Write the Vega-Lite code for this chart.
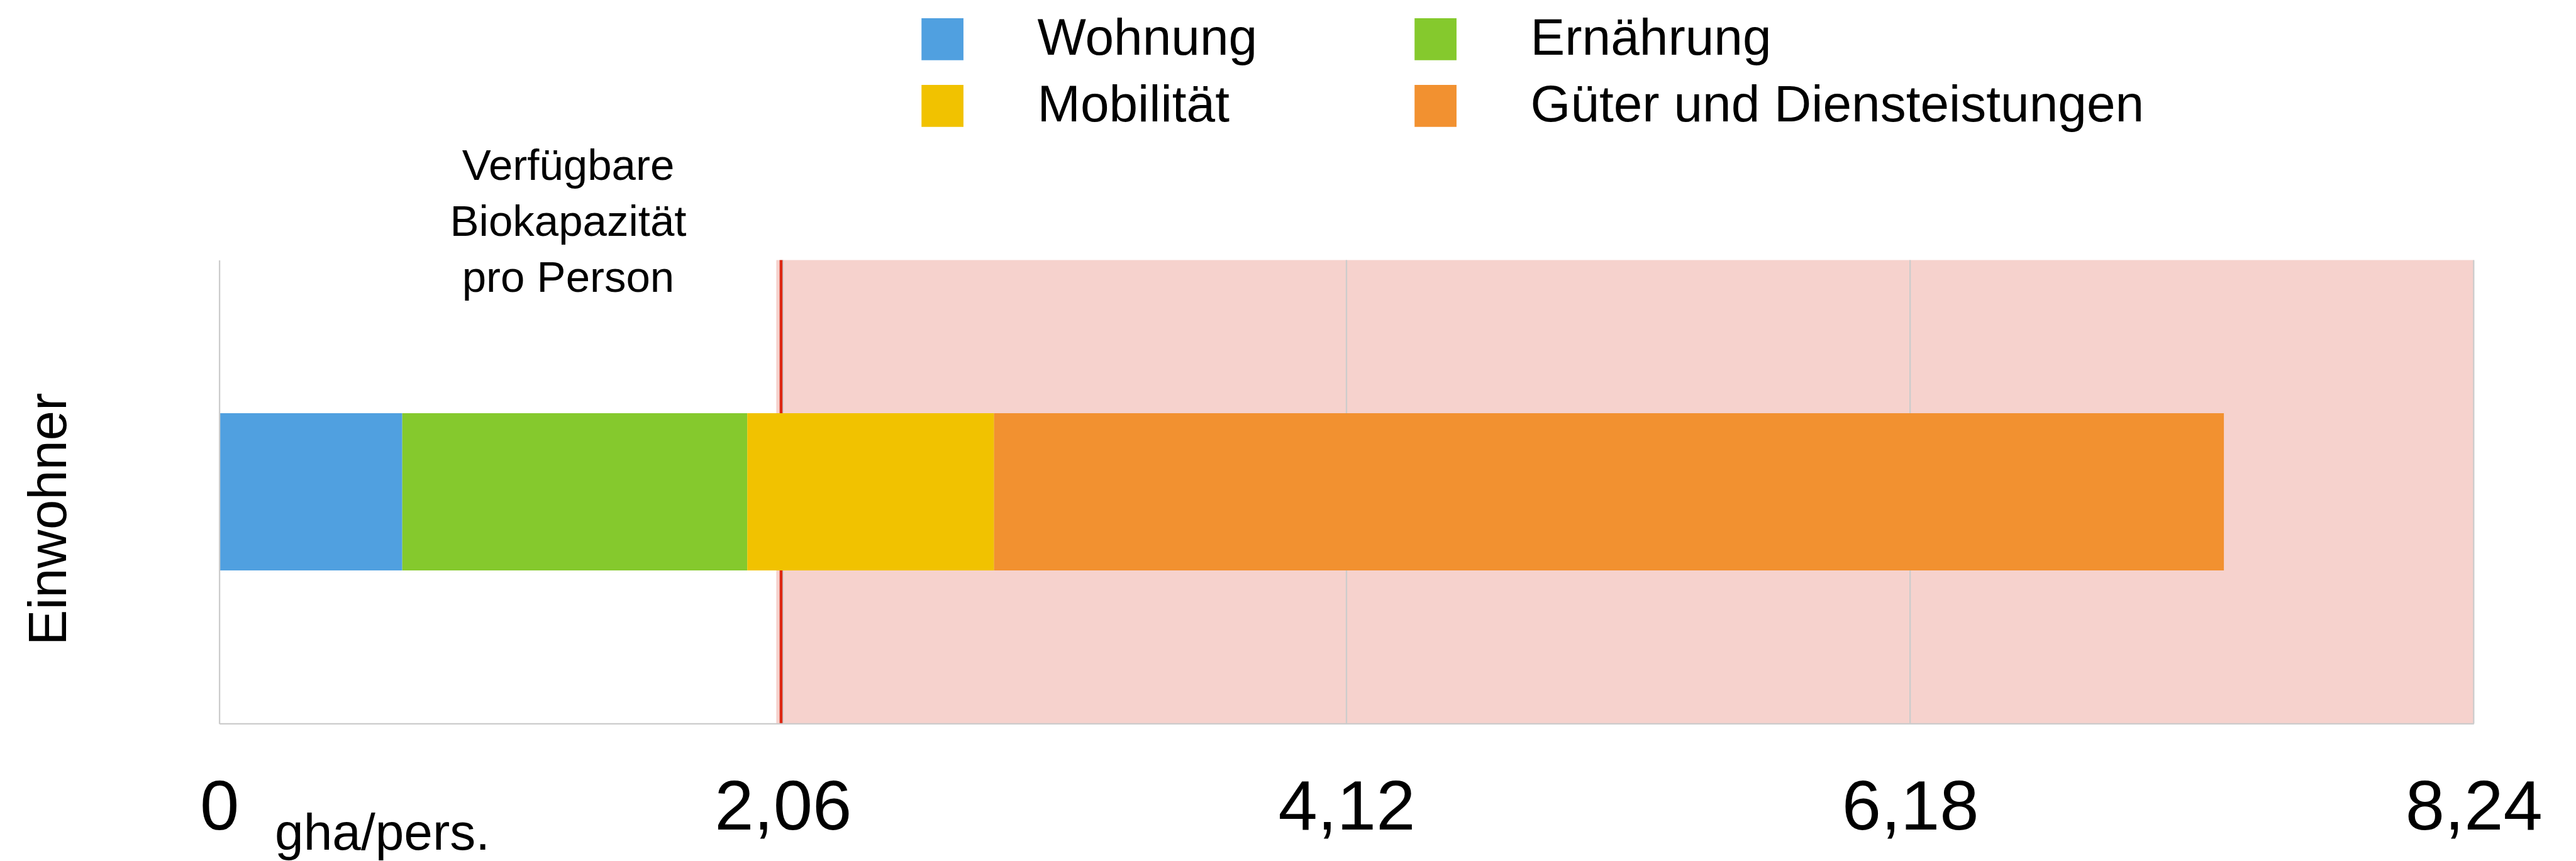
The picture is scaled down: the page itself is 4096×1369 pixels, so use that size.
{
  "$schema": "https://vega.github.io/schema/vega-lite/v6.json",
  "autosize": {"type": "none"},
  "padding": {"left": 348.6, "top": 413.4, "right": 162.7, "bottom": 218.6},
  "width": 3584.7,
  "height": 737,
  "config": {
    "view": {"stroke": null},
    "font": "Liberation Sans",
    "text": {"font": "Liberation Sans"}
  },
  "datasets": {
    "fussabdruck": [
      {"Gruppe": "Einwohner", "Kategorie": "Wohnung", "Rang": 1, "Wert": 0.669},
      {"Gruppe": "Einwohner", "Kategorie": "Ernährung", "Rang": 2, "Wert": 1.261},
      {"Gruppe": "Einwohner", "Kategorie": "Mobilität", "Rang": 3, "Wert": 0.902},
      {"Gruppe": "Einwohner", "Kategorie": "Güter und Diensteistungen", "Rang": 4, "Wert": 4.495}
    ],
    "zone": [{"von": 2.036, "bis": 8.24}],
    "gitter": [{"g": 2.06}, {"g": 4.12}, {"g": 6.18}, {"g": 8.24}],
    "kapazitaet": [{"b": 2.0535, "Gruppe": "Einwohner", "label": "Verfügbare|Biokapazität|pro Person", "lx": 1.2755}]
  },
  "layer": [
    {
      "data": {"name": "zone"},
      "mark": {"type": "rect", "color": "#F6D2CD"},
      "encoding": {
        "x": {
          "field": "von",
          "type": "quantitative",
          "scale": {"domain": [0, 8.24], "nice": false, "zero": true},
          "title": "gha/pers.",
          "axis": {
            "values": [0, 2.06, 4.12, 6.18, 8.24],
            "labelExpr": "datum.value == 0 ? '0' : replace(format(datum.value, '.2f'), '.', ',')",
            "ticks": false,
            "tickSize": 0,
            "grid": false,
            "domainColor": "#CCCCCC",
            "domainWidth": 2.3,
            "labelFontSize": 112,
            "labelPadding": 168,
            "labelBaseline": "alphabetic",
            "labelFlush": false,
            "labelOverlap": false,
            "labelLimit": 1000,
            "labelColor": "#000000",
            "titleX": 88,
            "titleY": 200,
            "titleAlign": "left",
            "titleAnchor": "start",
            "titleBaseline": "alphabetic",
            "titleFontSize": 82,
            "titleFontWeight": "normal",
            "titleColor": "#000000",
            "titleLimit": 2000,
            "zindex": 1
          }
        },
        "x2": {"field": "bis"}
      }
    },
    {
      "data": {"name": "gitter"},
      "mark": {"type": "rule", "color": "#CCCCCC", "strokeWidth": 2.3},
      "encoding": {
        "x": {"field": "g", "type": "quantitative", "title": "gha/pers."}
      }
    },
    {
      "data": {"name": "kapazitaet"},
      "mark": {"type": "rule", "color": "#DD2611", "strokeWidth": 4.6},
      "encoding": {
        "x": {"field": "b", "type": "quantitative", "title": "gha/pers."}
      }
    },
    {
      "data": {"name": "fussabdruck"},
      "mark": {"type": "bar"},
      "encoding": {
        "x": {
          "field": "Wert",
          "type": "quantitative",
          "stack": "zero",
          "title": "gha/pers."
        },
        "order": {"field": "Rang", "type": "quantitative", "sort": "ascending"},
        "y": {
          "field": "Gruppe",
          "type": "nominal",
          "scale": {"paddingInner": 0, "paddingOuter": 0.974},
          "title": "Einwohner",
          "axis": {
            "labels": false,
            "ticks": false,
            "tickSize": 0,
            "grid": false,
            "domainColor": "#CCCCCC",
            "domainWidth": 2.3,
            "titleX": -243.8,
            "titleY": 411.6,
            "titleAngle": 270,
            "titleAlign": "center",
            "titleBaseline": "alphabetic",
            "titleFontSize": 85,
            "titleFontWeight": "normal",
            "titleColor": "#000000",
            "titleLimit": 2000,
            "zindex": 1
          }
        },
        "color": {
          "field": "Kategorie",
          "type": "nominal",
          "sort": ["Wohnung", "Ernährung", "Mobilität", "Güter und Diensteistungen"],
          "scale": {
            "domain": ["Wohnung", "Ernährung", "Mobilität", "Güter und Diensteistungen"],
            "range": ["#50A0E0", "#85C92D", "#F1C200", "#F29130"]
          },
          "legend": {
            "title": null,
            "orient": "none",
            "direction": "horizontal",
            "legendX": 1109,
            "legendY": -392,
            "columns": 2,
            "columnPadding": 242,
            "rowPadding": 24,
            "padding": 0,
            "offset": 0,
            "symbolType": "square",
            "symbolSize": 4450,
            "symbolStrokeWidth": 0,
            "symbolOpacity": 1,
            "labelFontSize": 82,
            "labelOffset": 110,
            "labelLimit": 3000,
            "labelColor": "#000000"
          }
        }
      }
    },
    {
      "data": {"name": "kapazitaet"},
      "mark": {
        "type": "text",
        "fontSize": 69,
        "lineHeight": 89,
        "lineBreak": "|",
        "align": "center",
        "baseline": "alphabetic",
        "dy": -496,
        "color": "#000000"
      },
      "encoding": {
        "x": {"field": "lx", "type": "quantitative", "title": "gha/pers."},
        "y": {"field": "Gruppe", "type": "nominal", "title": "Einwohner"},
        "text": {"field": "label", "type": "nominal"}
      }
    }
  ]
}
